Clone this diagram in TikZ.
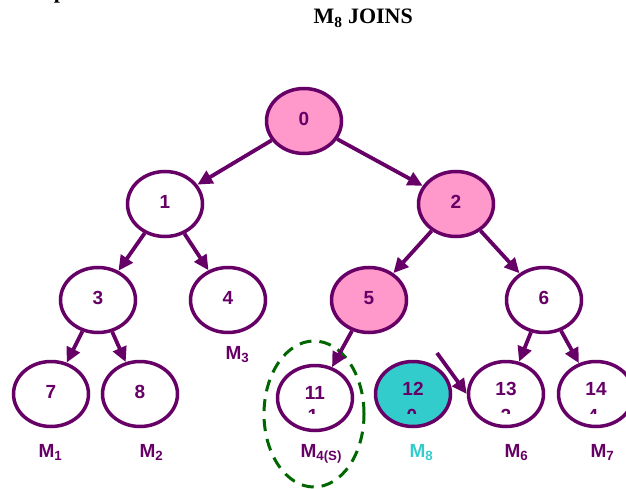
\documentclass[tikz,border=0pt]{standalone}
\usepackage{fontspec}
\setmainfont{Liberation Sans}
\newfontfamily\titre{Liberation Serif}
\usetikzlibrary{arrows.meta, shapes.geometric}
\definecolor{violetFonce}{RGB}{102, 0, 102}
\definecolor{roseVif}{RGB}{255, 153, 204}
\definecolor{cyanNouv}{RGB}{51, 204, 204}
\definecolor{vertPointe}{RGB}{0, 102, 0}

\begin{document}
\begin{tikzpicture}[x=1pt, y=-1pt,
  nd/.style={ellipse, draw=violetFonce, fill=white, line width=3.5pt,
    minimum width=75pt, minimum height=65pt, inner sep=0pt,
    text depth=5pt, text=violetFonce,
    font=\fontsize{19}{23}\selectfont\bfseries},
  hot/.style={nd, fill=roseVif},
  newb/.style={nd, fill=cyanNouv},
  deux/.style={text depth=11pt},
  arr/.style={-{Triangle[length=15pt, width=14pt]}, line width=3.8pt,
    draw=violetFonce},
  lbl/.style={anchor=base west, text=violetFonce,
    font=\fontsize{19}{23}\selectfont\bfseries},
  frag/.style={anchor=base, text=violetFonce,
    font=\fontsize{19}{23}\selectfont\bfseries},
]
\useasboundingbox (0,0) rectangle (626,489);
\clip (0,0) rectangle (626,489);

\node[anchor=base, font=\titre\fontsize{22}{26}\selectfont\bfseries]
  (bout) at (60,-1) {p};
\node[anchor=base west, font=\titre\fontsize{22}{26}\selectfont\bfseries]
  (titre) at (310,24) {M\textsubscript{8} JOINS};

\node[ellipse, draw=vertPointe, line width=3pt, dash pattern=on 12pt off 8pt,
  minimum width=100pt, minimum height=146pt] (grp) at (314,414) {};

\node[hot] (n0) at (304,121) {0};
\node[nd]  (n1) at (165,204) {1};
\node[hot] (n2) at (456,204) {2};
\node[nd]  (n3) at (98,300)  {3};
\node[nd]  (n4) at (228,300) {4};
\node[hot] (n5) at (369,300) {5};
\node[nd]  (n6) at (544,300) {6};
\node[nd]  (n7) at (51,394)  {7};
\node[nd]  (n8) at (140,394) {8};
\node[nd, deux]   (n11) at (315,398) {11};
\node[newb, deux] (n12) at (413,394) {12};
\node[nd, deux]   (n13) at (506,394) {13};
\node[nd, deux]   (n14) at (596,394) {14};

\begin{scope}
  \clip (0,0) rectangle (626,413);
  \node[frag] (f11) at (313,422) {1};
  \node[frag] (f12) at (412,422) {0};
  \node[frag] (f13) at (506,422) {2};
  \node[frag] (f14) at (593,422) {4};
\end{scope}

\draw[arr] (n0) -- (n1);
\draw[arr] (n0) -- (n2);
\draw[arr] (n1) -- (n3);
\draw[arr] (n1) -- (n4);
\draw[arr] (n2) -- (n5);
\draw[arr] (n2) -- (n6);
\draw[arr] (n3) -- (n7);
\draw[arr] (n3) -- (n8);
\draw[arr] (n5) -- (n11);
\draw[arr] (n6) -- (n13);
\draw[arr] (n6) -- (n14);
\coordinate (m8in) at (437,353);
\draw[arr] (m8in) -- (n13.west);

\node[lbl] (m1) at (35,457)  {M\textsubscript{1}};
\node[lbl] (m2) at (136,457) {M\textsubscript{2}};
\node[lbl] (m3) at (222,359) {M\textsubscript{3}};
\node[lbl] (m4) at (297,457) {M\textsubscript{4(S)}};
\node[lbl, text=cyanNouv] (m8) at (406,457) {M\textsubscript{8}};
\node[lbl] (m6) at (501,457) {M\textsubscript{6}};
\node[lbl] (m7) at (587,457) {M\textsubscript{7}};
\end{tikzpicture}
\end{document}
